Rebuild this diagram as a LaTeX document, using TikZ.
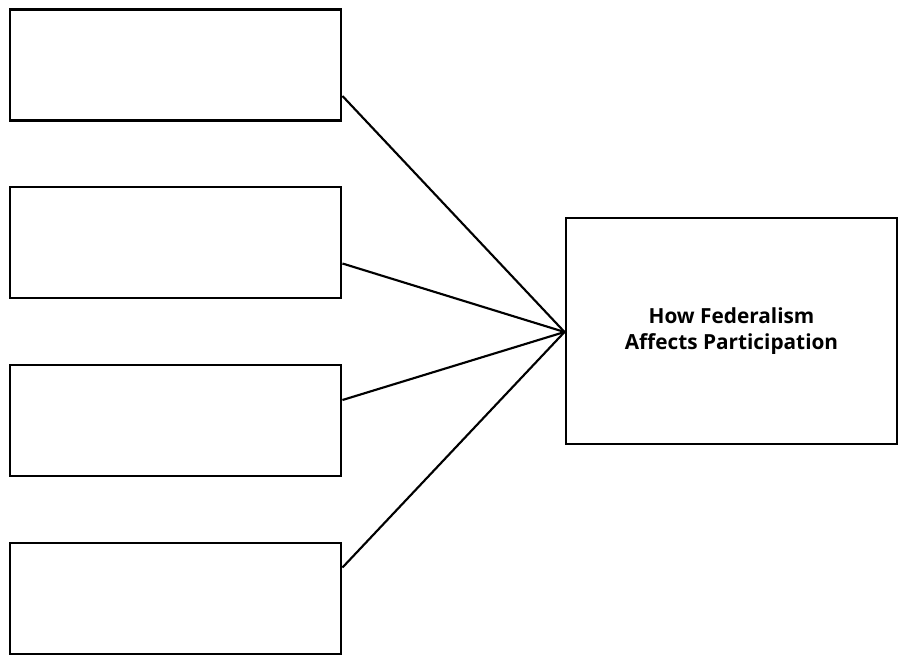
\documentclass[tikz,border=0pt]{standalone}
\usepackage{fontspec}
\setmainfont{Open Sans}
\begin{document}
\begin{tikzpicture}[x=0.75pt,y=-0.75pt,
  blank/.style={draw=black,line width=2.2pt,minimum width=331*0.75pt,minimum height=111*0.75pt,inner sep=0pt},
  topic/.style={draw=black,line width=2.2pt,minimum width=331*0.75pt,minimum height=226*0.75pt,inner sep=0pt,
    align=center,font=\bfseries\fontsize{15.6}{19}\selectfont},
  link/.style={line width=1.6pt}]
\useasboundingbox (0,0) rectangle (898,660);
\node[blank] (b1) at (175.5,65) {};
\node[blank] (b2) at (175.5,242.5) {};
\node[blank] (b3) at (175.5,420.5) {};
\node[blank] (b4) at (175.5,598.5) {};
\node[topic] (t) at (731.5,331) {How Federalism\\Affects Participation};
\coordinate (c1) at ([yshift=-31*0.75pt]b1.east);
\coordinate (c2) at ([yshift=-21*0.75pt]b2.east);
\coordinate (c3) at ([yshift=20.5*0.75pt]b3.east);
\coordinate (c4) at ([yshift=31*0.75pt]b4.east);
\coordinate (apex) at ([yshift=-1*0.75pt]t.west);
\foreach \c in {c1,c2,c3,c4} \draw[link] (\c) -- (apex);
\end{tikzpicture}
\end{document}
